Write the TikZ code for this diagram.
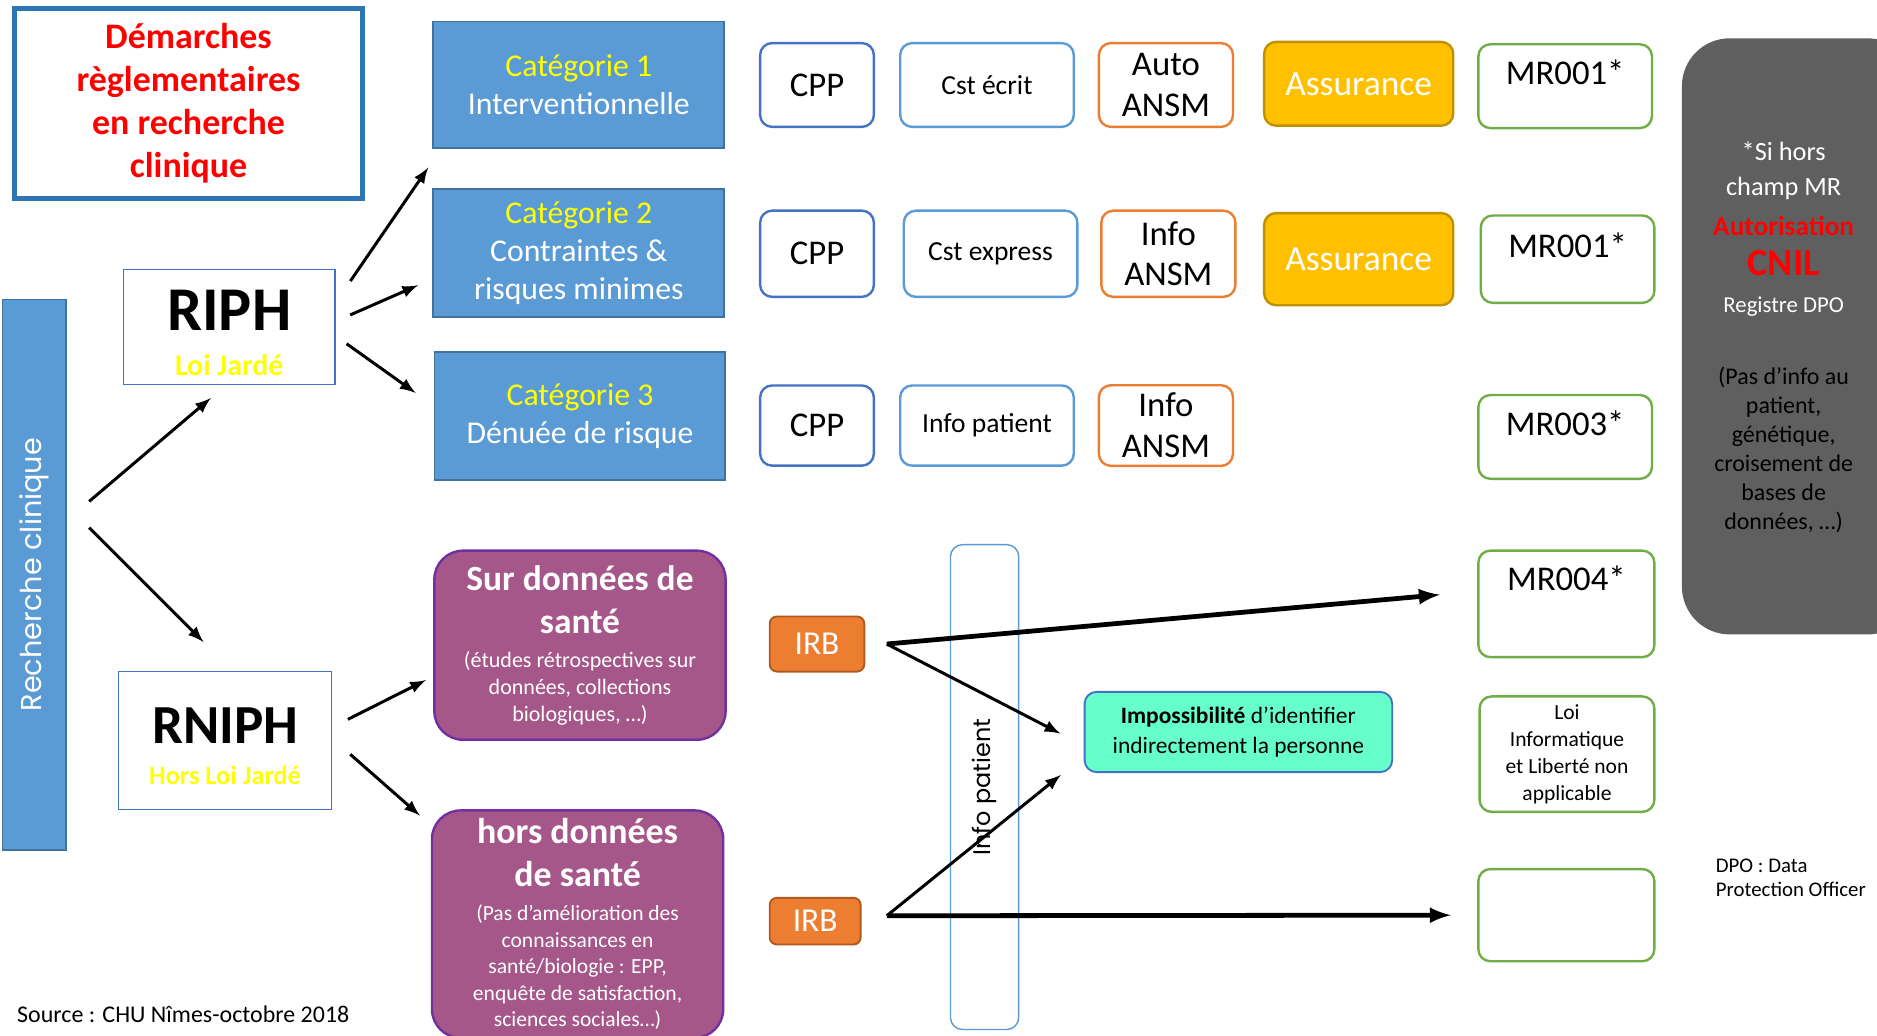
\documentclass[tikz,border=0pt]{standalone}
\usepackage{fontspec}
\usepackage{graphicx}
\setmainfont{Carlito}
\newfontfamily\gothic{Poppins}
\usetikzlibrary{arrows}
\definecolor{catblue}{HTML}{5B9BD5}
\definecolor{catline}{HTML}{41719C}
\definecolor{titleblue}{HTML}{2E75B6}
\definecolor{riphblue}{HTML}{4472C4}
\definecolor{ansmorange}{HTML}{ED7D31}
\definecolor{assgold}{HTML}{FFC000}
\definecolor{assline}{HTML}{BF9000}
\definecolor{mrgreen}{HTML}{70AD47}
\definecolor{purplefill}{HTML}{A5578A}
\definecolor{purpleline}{HTML}{7030A0}
\definecolor{irbline}{HTML}{AE5A21}
\definecolor{impgreen}{HTML}{66FFCC}
\definecolor{greybox}{HTML}{5F5F5F}
\definecolor{jaune}{HTML}{FFFF00}
\tikzstyle{titlebox} = [align=center,draw=titleblue,line width=2pt,text=red,font=\bfseries\fontsize{15}{18}\selectfont]
\tikzstyle{bar} = [draw=catline,fill=catblue,line width=0.6pt,text=white,font=\gothic\fontsize{12}{14}\selectfont]
\tikzstyle{law} = [draw=riphblue,line width=0.6pt,align=flush center,text width=80pt]
\tikzstyle{cat} = [align=center,draw=catline,line width=0.8pt,fill=catblue,text=white,minimum width=121.5pt,font=\fontsize{13.25}{16}\selectfont]
\tikzstyle{item} = [align=center,rounded corners=5pt,line width=1pt,fill=white]
\tikzstyle{cpp} = [item,draw=riphblue,minimum width=47.5pt,font=\fontsize{14.5}{17}\selectfont]
\tikzstyle{cst} = [item,draw=catblue,minimum width=72.5pt,font=\fontsize{11.5}{14}\selectfont]
\tikzstyle{ansm} = [item,draw=ansmorange,minimum width=56pt,font=\fontsize{14.5}{17}\selectfont]
\tikzstyle{assur} = [item,draw=assline,fill=assgold,text=white,minimum width=79pt,font=\fontsize{14.8}{17}\selectfont]
\tikzstyle{mr} = [item,draw=mrgreen,minimum width=72.5pt,font=\fontsize{14.5}{17}\selectfont,text height=10pt,text depth=11.5pt]
\tikzstyle{sante} = [align=flush center,draw=purpleline,line width=1pt,fill=purplefill,text=white,rounded corners=12pt,minimum width=121.5pt,text width=115pt]
\tikzstyle{irb} = [draw=irbline,line width=0.8pt,fill=ansmorange,text=white,rounded corners=3pt,font=\fontsize{14}{17}\selectfont]
\tikzstyle{link} = [->,>=latex,line width=1.25pt]
\tikzstyle{biglink} = [->,>=latex,line width=2pt]

\begin{document}
\begin{tikzpicture}[x=0.5pt,y=-0.5pt]
\useasboundingbox (0,0) rectangle (1568,865);
\node (title) [titlebox,minimum width=145.5pt,minimum height=79.5pt] at (157.5,86.5) {Démarches\\règlementaires\\en recherche\\clinique};
\node (rech) [bar,minimum width=26.5pt,minimum height=230pt] at (28.5,480) {\rotatebox{90}{Recherche clinique}};
\node (riph) [law,minimum width=88.5pt,minimum height=48pt] at (191.5,273) {{\bfseries\fontsize{26}{26}\selectfont\rule{0pt}{22pt}RIPH\par}{\color{jaune}\bfseries\fontsize{12.5}{18.5}\selectfont Loi Jardé\par}};
\node (rniph) [law,minimum width=89pt,minimum height=57.5pt] at (188,618.5) {{\bfseries\fontsize{23}{23}\selectfont\rule{0pt}{20pt}RNIPH\par}{\color{jaune}\bfseries\fontsize{11}{17.3}\selectfont Hors Loi Jardé\par}};
\node (cat1) [cat,minimum height=53pt] at (483.5,71) {{\color{jaune}Catégorie 1}\\Interventionnelle};
\node (cat2) [cat,minimum height=53.5pt] at (483.5,211.5) {{\color{jaune}Catégorie 2}\\Contraintes \&\\risques minimes};
\node (cat3) [cat,minimum height=53.5pt] at (484.5,347.5) {{\color{jaune}Catégorie 3}\\Dénuée de risque};
\node (sur) [sante,minimum height=79pt] at (484.5,539) {{\bfseries\fontsize{14.8}{18}\selectfont Sur données de\\santé\par}\vspace{3pt}{\fontsize{9.2}{11.25}\selectfont (études rétrospectives sur\\données, collections\\biologiques, …)\par}};
\node (hors) [sante,minimum height=95pt] at (482.5,772) {{\bfseries\fontsize{15}{18}\selectfont hors données\\de santé\par}\vspace{3pt}{\fontsize{9}{11.1}\selectfont (Pas d’amélioration des\\connaissances en\\santé/biologie : EPP,\\enquête de satisfaction,\\sciences sociales…)\par}};
\node (cpp1) [cpp,minimum height=35pt] at (682.5,71) {CPP};
\node (cst1) [cst,minimum height=35pt] at (824.5,71) {Cst écrit};
\node (ansm1) [ansm,minimum height=35pt] at (974,71) {Auto\\ANSM};
\node (ass1) [assur,minimum height=35pt] at (1135,70) {Assurance};
\node (mr1) [mr,minimum height=35pt] at (1307.5,72) {MR001*};
\node (cpp2) [cpp,minimum height=36pt] at (682.5,212) {CPP};
\node (cst2) [cst,minimum height=36pt] at (827.5,212) {Cst express};
\node (ansm2) [ansm,minimum height=36pt] at (976,212) {Info\\ANSM};
\node (ass2) [assur,minimum height=38.5pt] at (1135,216.5) {Assurance};
\node (mr2) [mr,minimum height=36.5pt] at (1309.5,216.5) {MR001*};
\node (cpp3) [cpp,minimum height=33.5pt] at (682.5,355.5) {CPP};
\node (cst3) [cst,minimum height=33.5pt] at (824.5,355.5) {Info patient};
\node (ansm3) [ansm,minimum height=33.5pt] at (974,355.5) {Info\\ANSM};
\node (mr3) [mr,minimum height=35pt] at (1307.5,365) {MR003*};
\node (mr4) [mr,minimum width=73.5pt,minimum height=44.5pt,text depth=21pt] at (1308.5,504.5) {MR004*};
\node (loi) [item,draw=mrgreen,minimum width=73pt,minimum height=46pt,font=\fontsize{9}{11.3}\selectfont] at (1309,630) {Loi\\Informatique\\et Liberté non\\applicable};
\node (vide) [item,draw=mrgreen,minimum width=73.5pt,minimum height=38.5pt] at (1308.5,764.5) {};
\node (gris) [fill=greybox,rounded corners=20pt,minimum width=97.5pt,minimum height=249pt] at (1502.5,281) {};
\node (cnil) [align=flush center,text width=80pt,text=white] at (1490,282) {{\fontsize{11}{14.5}\selectfont *Si hors\\champ MR\par}{\color{red}\bfseries\fontsize{11.4}{16.5}\selectfont Autorisation\par}{\color{red}\bfseries\fontsize{16}{17}\selectfont CNIL\par}{\fontsize{9.5}{15.5}\selectfont Registre DPO\par}\vspace{18pt}{\color{black}\fontsize{10}{12.1}\selectfont (Pas d’info au\\patient,\\génétique,\\croisement de\\bases de\\données, …)\par}};
\node (irb1) [irb,minimum width=39.5pt,minimum height=23pt] at (682.5,538) {IRB};
\node (irb2) [irb,minimum width=38pt,minimum height=19.5pt] at (681,769.5) {IRB};
\node (infop) [draw=catblue,line width=0.6pt,rounded corners=5pt,minimum width=28.5pt,minimum height=202.5pt,font=\gothic\fontsize{10}{12}\selectfont] at (822.5,657.5) {\rotatebox{90}{Info patient}};
\node (imp) [align=center,draw=riphblue,line width=0.8pt,fill=impgreen,rounded corners=5pt,minimum width=128.5pt,minimum height=33.5pt,font=\fontsize{9.8}{12.5}\selectfont] at (1034.5,611.5) {\textbf{Impossibilité} d’identifier\\indirectement la personne};
\node (dpo) [anchor=west,align=left,inner sep=0pt,font=\fontsize{8.7}{10}\selectfont] at (1433,733) {DPO : Data\\Protection Officer};
\node (src) [anchor=west,inner sep=0pt,font=\fontsize{10}{12}\selectfont] at (14,847) {Source : CHU Nîmes-octobre 2018};
\coordinate (out1) at ([xshift=9pt]irb1.east);
\coordinate (out2) at ([xshift=10.5pt,yshift=2.25pt]irb2.east);
\draw [link,shorten <=12.4pt,shorten >=8.4pt] (rech.59) -- (riph.267);
\draw [link,shorten <=13.4pt,shorten >=17pt] (rech.65) -- (rniph.84);
\draw [link,shorten <=10.7pt,shorten >=9.2pt] (riph.13) -- (cat1.205);
\draw [link,shorten <=6.5pt,shorten >=6.5pt] (riph.3) -- (cat2.190);
\draw [link,shorten <=5.5pt,shorten >=9.2pt] (riph.355) -- (cat3.176);
\draw [link,shorten <=7.3pt,shorten >=3.4pt] (rniph.7) -- (sur.192);
\draw [link,shorten <=10pt,shorten >=6pt] (rniph.1) -- (hors.146);
\draw [biglink,shorten >=15.6pt] (out1) -- (mr4.172);
\draw [link,shorten >=10.9pt] (out1) -- (imp.185);
\draw [link,shorten >=12.2pt] (out2) -- (imp.189);
\draw [biglink,shorten >=11pt] (out2) -- (vide.west);
\end{tikzpicture}
\end{document}
